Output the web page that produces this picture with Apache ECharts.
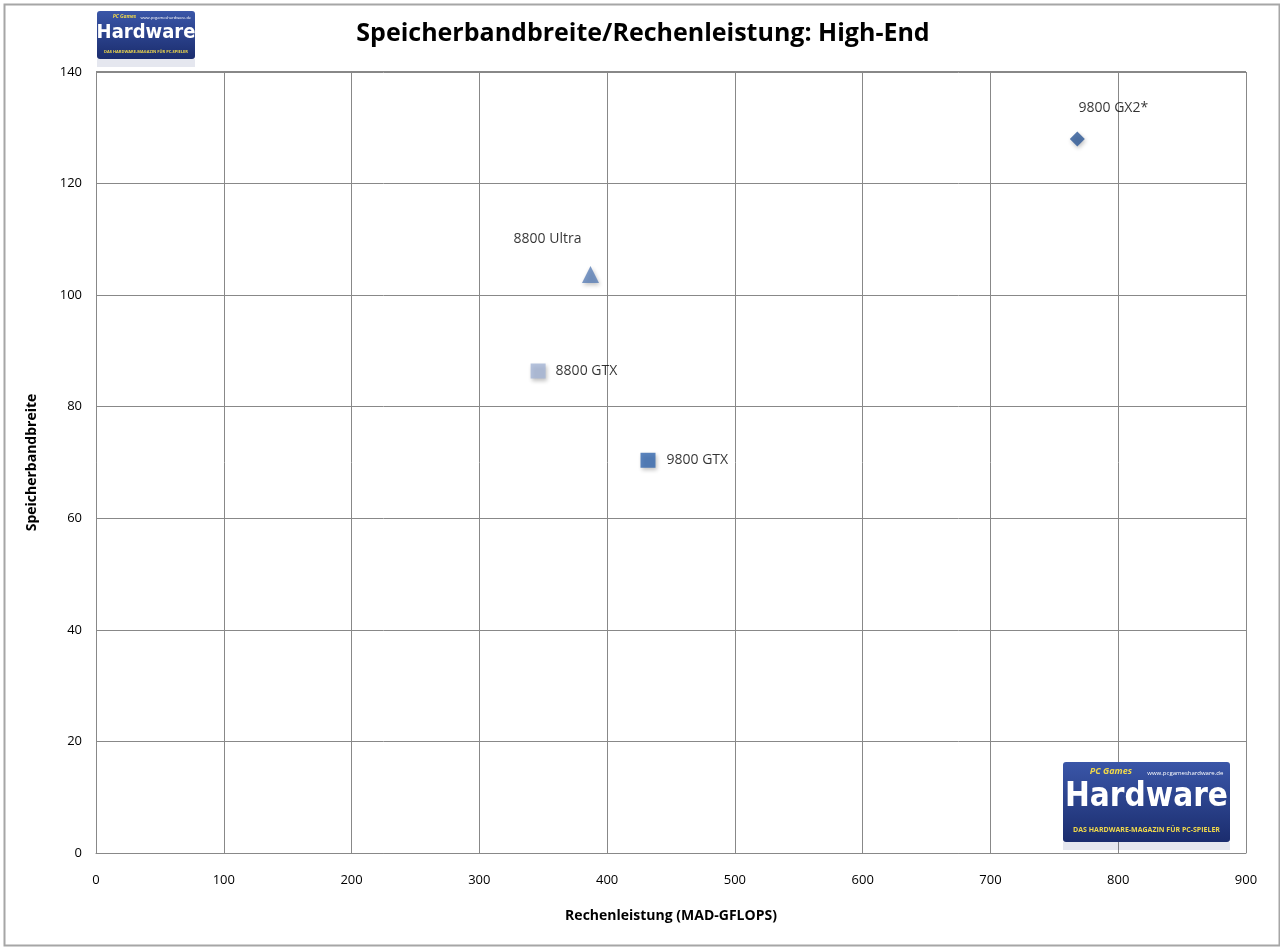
<!DOCTYPE html>
<html lang="de">
<head>
    <meta charset="UTF-8">
    <title>Speicherbandbreite/Rechenleistung</title>
    <script src="https://cdn.jsdelivr.net/npm/echarts@6/dist/echarts.min.js"></script>
    <style>
        html, body { margin: 0; padding: 0; background: #fff; }
        #main { width: 1280px; height: 947px; }
    </style>
</head>
<body>
<div id="main"></div>
<script type="text/javascript">
    // Grafikkarten: MAD-GFLOPS und Speicherbandbreite (GB/s)
    var cards = ['9800 GX2*', '8800 Ultra', '8800 GTX', '9800 GTX'];
    var gflops = [768, 387, 346, 432];
    var bandwidth = [128, 103.7, 86.4, 70.4];
    var xTicks = [0, 100, 200, 300, 400, 500, 600, 700, 800, 900];
    var yTicks = [0, 20, 40, 60, 80, 100, 120, 140];

    var symbols = ['diamond', 'triangle', 'rect', 'rect'];
    var sizes = [15, 17, 15, 15];
    var colors = ['#2c5896', '#5b7fb6', '#a4b4d4', '#3366ae'];
    var labelPos = [
        {position: 'top', offset: [36, -11]},
        {position: 'top', offset: [-43, -15]},
        {position: 'right', offset: [5, 0]},
        {position: 'right', offset: [6, 0]}
    ];

    var font = 'Open Sans, Noto Sans, sans-serif';

    var series = cards.map(function (name, i) {
        return {
            name: name,
            type: 'scatter',
            symbol: symbols[i],
            symbolSize: sizes[i],
            data: [[gflops[i], bandwidth[i]]],
            itemStyle: {
                color: colors[i],
                shadowBlur: 4,
                shadowOffsetX: 1,
                shadowOffsetY: 2,
                shadowColor: 'rgba(0,0,0,0.3)'
            },
            label: {
                show: true,
                formatter: name,
                position: labelPos[i].position,
                offset: labelPos[i].offset,
                color: '#000',
                fontFamily: font,
                fontSize: 14
            }
        };
    });

    // kleines Logo aus Grafik-Elementen
    function logo(x, y, w, h) {
        return {
            type: 'group',
            x: x,
            y: y,
            z: 100,
            children: [
                {type: 'rect', z: 100, shape: {x: 0, y: h, width: w, height: 8},
                    style: {fill: 'rgba(40,60,120,0.12)'}},
                {type: 'rect', z: 100, shape: {x: 0, y: 0, width: w, height: h, r: 3},
                    style: {fill: {type: 'linear', x: 0, y: 0, x2: 0, y2: 1,
                        colorStops: [{offset: 0, color: '#3a56a8'}, {offset: 1, color: '#1b2d6e'}]}}},
                {type: 'text', z: 101, style: {x: w * 0.16, y: h * 0.06, text: 'PC Games',
                    fill: '#f0d84a', font: 'italic bold ' + Math.round(w * 0.055) + 'px ' + font}},
                {type: 'text', z: 101, style: {x: w * 0.96, y: h * 0.1, text: 'www.pcgameshardware.de', align: 'right',
                    fill: '#fff', font: Math.max(4, Math.round(w * 0.036)) + 'px ' + font}},
                {type: 'text', z: 101, style: {x: w / 2, y: h * 0.24, text: 'Hardware', align: 'center',
                    fill: '#fff', font: 'bold ' + Math.round(w * 0.2) + 'px DejaVu Sans Condensed, ' + font}},
                {type: 'text', z: 101, style: {x: w / 2, y: h * 0.8, text: 'DAS HARDWARE-MAGAZIN FÜR PC-SPIELER',
                    align: 'center', fill: '#f0d84a', font: 'bold ' + Math.max(4, Math.round(w * 0.042)) + 'px ' + font}}
            ]
        };
    }

    var myChart = echarts.init(document.getElementById('main'));
    var option = {
        backgroundColor: '#fff',
        animation: false,
        title: {
            text: 'Speicherbandbreite/Rechenleistung: High-End',
            left: 638,
            top: 16,
            textAlign: 'center',
            textStyle: {fontFamily: font, fontSize: 25, fontWeight: 'bold', color: '#000'}
        },
        grid: {left: 96, right: 34, top: 72, bottom: 94},
        xAxis: {
            type: 'value',
            min: 0,
            max: 900,
            interval: 100,
            name: 'Rechenleistung (MAD-GFLOPS)',
            nameLocation: 'middle',
            nameGap: 56,
            nameTextStyle: {fontFamily: font, fontSize: 14, fontWeight: 'bold', color: '#000'},
            axisLine: {show: true, lineStyle: {color: '#888', width: 1}},
            axisTick: {show: false},
            axisLabel: {
                fontFamily: font, fontSize: 13, color: '#000', margin: 21,
                formatter: function (v) { return xTicks.indexOf(v) >= 0 ? String(v) : ''; }
            },
            splitLine: {show: true, lineStyle: {color: '#888', width: 1}}
        },
        yAxis: {
            type: 'value',
            min: 0,
            max: 140,
            interval: 20,
            name: 'Speicherbandbreite',
            nameLocation: 'middle',
            nameGap: 57,
            nameTextStyle: {fontFamily: font, fontSize: 14, fontWeight: 'bold', color: '#000'},
            axisLine: {show: true, lineStyle: {color: '#888', width: 1}},
            axisTick: {show: false},
            axisLabel: {
                fontFamily: font, fontSize: 13, color: '#000', margin: 14,
                formatter: function (v) { return yTicks.indexOf(v) >= 0 ? String(v) : ''; }
            },
            splitLine: {show: true, lineStyle: {color: '#888', width: 1}}
        },
        graphic: [
            {type: 'rect', left: 2, top: 2, shape: {width: 1275, height: 941},
                style: {fill: 'none', stroke: '#a6a6a6', lineWidth: 2}, z: 0},
            {type: 'rect', left: 1246, top: 72, shape: {width: 1, height: 781},
                style: {fill: '#888'}},
            {type: 'rect', left: 96, top: 71, shape: {width: 1150, height: 1},
                style: {fill: '#888'}},
            logo(97, 11, 98, 48),
            logo(1063, 762, 167, 80)
        ],
        series: series
    };
    myChart.setOption(option);
</script>
</body>
</html>
